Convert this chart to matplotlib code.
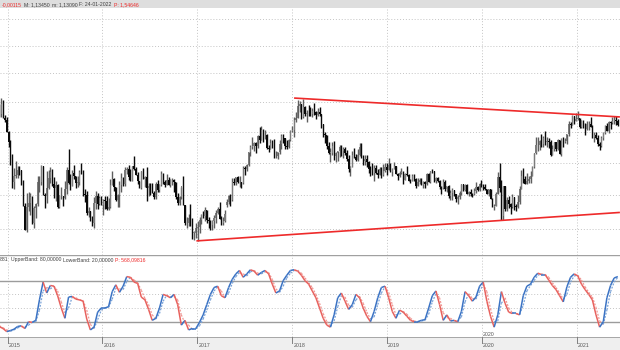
import matplotlib
matplotlib.use('Agg')
import matplotlib.pyplot as plt
import matplotlib.dates as mdates
from matplotlib.collections import LineCollection
from matplotlib.ticker import NullLocator
import numpy as np
import datetime as dt

plt.rcParams['font.family'] = ['Liberation Sans', 'DejaVu Sans']

# ---------------- data: weekly EUR/USD candles (open, high, low, close) ----------------
first_week = dt.date(2014, 12, 1)

w2014 = [(1.2450,1.2456,1.2247,1.2288),(1.2288,1.2570,1.2250,1.2468),(1.2468,1.2532,1.2220,1.2229),
         (1.2229,1.2280,1.2160,1.2193),(1.2193,1.2247,1.1998,1.2002)]
w2015 = [(1.2002,1.2010,1.1754,1.1840),(1.1840,1.1860,1.1460,1.1566),(1.1566,1.1640,1.1115,1.1204),
         (1.1204,1.1424,1.1098,1.1290),(1.1290,1.1534,1.1270,1.1317),(1.1317,1.1446,1.1270,1.1388),
         (1.1388,1.1450,1.1316,1.1381),(1.1381,1.1392,1.1158,1.1196),(1.1196,1.1240,1.0840,1.0844),
         (1.0844,1.0890,1.0495,1.0497),(1.0497,1.1043,1.0462,1.0822),(1.0822,1.1052,1.0765,1.0890),
         (1.0890,1.1034,1.0712,1.0970),(1.0970,1.0990,1.0580,1.0600),(1.0600,1.0849,1.0519,1.0808),
         (1.0808,1.0880,1.0659,1.0873),(1.0873,1.1290,1.0849,1.1201),(1.1201,1.1292,1.1050,1.1203),
         (1.1203,1.1467,1.1161,1.1447),(1.1447,1.1447,1.1000,1.1012),(1.1012,1.1030,1.0819,1.0987),
         (1.0987,1.1379,1.0887,1.1114),(1.1114,1.1385,1.1103,1.1262),(1.1262,1.1436,1.1195,1.1352),
         (1.1352,1.1410,1.1135,1.1166),(1.1166,1.1278,1.0955,1.1105),(1.1105,1.1216,1.0915,1.1160),
         (1.1160,1.1170,1.0808,1.0825),(1.0825,1.1000,1.0808,1.0984),(1.0984,1.1128,1.0950,1.0984),
         (1.0984,1.0990,1.0848,1.0966),(1.0966,1.1215,1.0950,1.1104),(1.1104,1.1440,1.1017,1.1384),
         (1.1384,1.1714,1.1170,1.1183),(1.1183,1.1333,1.1087,1.1149),(1.1149,1.1385,1.1147,1.1339),
         (1.1339,1.1460,1.1245,1.1295),(1.1295,1.1300,1.1106,1.1195),(1.1195,1.1300,1.1120,1.1208),
         (1.1208,1.1390,1.1155,1.1358),(1.1358,1.1495,1.1320,1.1350),(1.1350,1.1390,1.0990,1.1014),
         (1.1014,1.1097,1.0896,1.1007),(1.1007,1.1060,1.0704,1.0739),(1.0739,1.0830,1.0675,1.0770),
         (1.0770,1.0772,1.0616,1.0644),(1.0644,1.0692,1.0557,1.0593),(1.0593,1.0981,1.0524,1.0882),
         (1.0882,1.1059,1.0800,1.0989),(1.0989,1.1041,1.0805,1.0866),(1.0866,1.0990,1.0850,1.0967),
         (1.0967,1.0990,1.0850,1.0862)]
w2016 = [(1.0862,1.0946,1.0711,1.0922),(1.0922,1.0994,1.0804,1.0918),(1.0918,1.0986,1.0778,1.0795),
         (1.0795,1.0960,1.0790,1.0831),(1.0831,1.1246,1.0810,1.1158),(1.1158,1.1376,1.1160,1.1257),
         (1.1257,1.1260,1.1067,1.1128),(1.1128,1.1130,1.0913,1.0934),(1.0934,1.1017,1.0822,1.1004),
         (1.1004,1.1218,1.0823,1.1152),(1.1152,1.1342,1.1057,1.1268),(1.1268,1.1278,1.1144,1.1168),
         (1.1168,1.1439,1.1144,1.1393),(1.1393,1.1438,1.1330,1.1398),(1.1398,1.1465,1.1232,1.1282),
         (1.1282,1.1398,1.1218,1.1225),(1.1225,1.1454,1.1215,1.1456),(1.1456,1.1616,1.1386,1.1404),
         (1.1404,1.1432,1.1310,1.1312),(1.1312,1.1350,1.1172,1.1223),(1.1223,1.1225,1.1112,1.1106),
         (1.1106,1.1372,1.1098,1.1367),(1.1367,1.1416,1.1253,1.1256),(1.1256,1.1298,1.1131,1.1280),
         (1.1280,1.1428,1.0912,1.1115),(1.1115,1.1186,1.0986,1.1136),(1.1136,1.1186,1.1000,1.1052),
         (1.1052,1.1185,1.1034,1.1043),(1.1043,1.1059,1.0952,1.0976),(1.0976,1.1198,1.0953,1.1175),
         (1.1175,1.1236,1.1046,1.1087),(1.1087,1.1180,1.1045,1.1161),(1.1161,1.1366,1.1149,1.1325),
         (1.1325,1.1342,1.1180,1.1198),(1.1198,1.1238,1.1123,1.1154),(1.1154,1.1327,1.1156,1.1233),
         (1.1233,1.1285,1.1158,1.1155),(1.1155,1.1250,1.1122,1.1229),(1.1229,1.1260,1.1161,1.1241),
         (1.1241,1.1250,1.1046,1.1202),(1.1202,1.1210,1.0952,1.0970),(1.0970,1.1039,1.0858,1.0885),
         (1.0885,1.0990,1.0860,1.0980),(1.0980,1.1125,1.0950,1.1142),(1.1142,1.1299,1.0853,1.0854),
         (1.0854,1.0860,1.0570,1.0588),(1.0588,1.0687,1.0518,1.0590),(1.0590,1.0722,1.0551,1.0663),
         (1.0663,1.0874,1.0555,1.0560),(1.0560,1.0668,1.0365,1.0450),(1.0450,1.0480,1.0352,1.0455),
         (1.0455,1.0590,1.0375,1.0520)]
w2017 = [(1.0520,1.0620,1.0340,1.0530),(1.0530,1.0686,1.0455,1.0642),(1.0642,1.0719,1.0580,1.0703),
         (1.0703,1.0775,1.0660,1.0695),(1.0695,1.0829,1.0620,1.0783),(1.0783,1.0790,1.0590,1.0640),
         (1.0640,1.0680,1.0520,1.0615),(1.0615,1.0640,1.0495,1.0560),(1.0560,1.0630,1.0494,1.0624),
         (1.0624,1.0715,1.0525,1.0673),(1.0673,1.0780,1.0600,1.0740),(1.0740,1.0825,1.0717,1.0800),
         (1.0800,1.0906,1.0650,1.0652),(1.0652,1.0690,1.0570,1.0590),(1.0590,1.0680,1.0570,1.0615),
         (1.0615,1.0779,1.0610,1.0727),(1.0860,1.0950,1.0820,1.0895),(1.0895,1.0999,1.0870,1.0996),
         (1.0996,1.1024,1.0839,1.0932),(1.0932,1.1268,1.0921,1.1207),(1.1207,1.1268,1.1160,1.1183),
         (1.1183,1.1285,1.1160,1.1280),(1.1280,1.1296,1.1195,1.1196),(1.1196,1.1296,1.1131,1.1198),
         (1.1198,1.1209,1.1119,1.1195),(1.1195,1.1445,1.1173,1.1426),(1.1426,1.1446,1.1312,1.1398),
         (1.1398,1.1489,1.1372,1.1470),(1.1470,1.1680,1.1449,1.1666),(1.1666,1.1777,1.1612,1.1752),
         (1.1752,1.1910,1.1727,1.1773),(1.1773,1.1828,1.1688,1.1823),(1.1823,1.1830,1.1662,1.1761),
         (1.1761,1.1940,1.1740,1.1924),(1.1924,1.2070,1.1823,1.1860),(1.1860,1.2092,1.1860,1.2036),
         (1.2036,1.2040,1.1837,1.1944),(1.1944,1.2035,1.1885,1.1950),(1.1950,1.1960,1.1717,1.1733),
         (1.1733,1.1790,1.1670,1.1725),(1.1725,1.1880,1.1715,1.1822),(1.1822,1.1860,1.1730,1.1786),
         (1.1786,1.1880,1.1574,1.1606),(1.1606,1.1690,1.1573,1.1608),(1.1608,1.1665,1.1554,1.1665),
         (1.1665,1.1860,1.1640,1.1794),(1.1794,1.1960,1.1722,1.1932),(1.1932,1.1960,1.1810,1.1895),
         (1.1895,1.1900,1.1728,1.1771),(1.1771,1.1863,1.1717,1.1751),(1.1751,1.1880,1.1734,1.1863),
         (1.1863,1.2030,1.1850,1.2005)]
w2018 = [(1.2005,1.2089,1.1995,1.2031),(1.2031,1.2240,1.1916,1.2200),(1.2200,1.2323,1.2165,1.2222),
         (1.2222,1.2537,1.2226,1.2427),(1.2427,1.2520,1.2335,1.2459),(1.2459,1.2468,1.2206,1.2252),
         (1.2252,1.2555,1.2235,1.2406),(1.2406,1.2430,1.2260,1.2294),(1.2294,1.2354,1.2155,1.2310),
         (1.2310,1.2446,1.2267,1.2307),(1.2307,1.2413,1.2260,1.2290),(1.2290,1.2388,1.2240,1.2352),
         (1.2352,1.2476,1.2280,1.2325),(1.2325,1.2340,1.2215,1.2280),(1.2280,1.2395,1.2255,1.2330),
         (1.2330,1.2414,1.2265,1.2288),(1.2288,1.2295,1.2055,1.2130),(1.2130,1.2130,1.1910,1.1960),
         (1.1960,1.1995,1.1823,1.1940),(1.1940,1.1950,1.1717,1.1770),(1.1770,1.1830,1.1645,1.1655),
         (1.1655,1.1730,1.1510,1.1660),(1.1660,1.1840,1.1630,1.1770),(1.1770,1.1852,1.1540,1.1610),
         (1.1610,1.1680,1.1508,1.1655),(1.1655,1.1690,1.1525,1.1684),(1.1684,1.1790,1.1590,1.1745),
         (1.1745,1.1790,1.1615,1.1684),(1.1684,1.1745,1.1575,1.1720),(1.1720,1.1750,1.1620,1.1658),
         (1.1658,1.1712,1.1530,1.1566),(1.1566,1.1625,1.1365,1.1410),(1.1410,1.1445,1.1301,1.1439),
         (1.1439,1.1690,1.1430,1.1622),(1.1622,1.1734,1.1580,1.1600),(1.1600,1.1640,1.1525,1.1553),
         (1.1553,1.1720,1.1530,1.1622),(1.1622,1.1815,1.1615,1.1750),(1.1750,1.1815,1.1570,1.1604),
         (1.1604,1.1620,1.1460,1.1524),(1.1524,1.1620,1.1460,1.1560),(1.1560,1.1620,1.1430,1.1510),
         (1.1510,1.1530,1.1335,1.1402),(1.1402,1.1455,1.1300,1.1388),(1.1388,1.1500,1.1315,1.1335),
         (1.1335,1.1470,1.1216,1.1415),(1.1415,1.1472,1.1325,1.1337),(1.1337,1.1400,1.1267,1.1315),
         (1.1315,1.1440,1.1310,1.1405),(1.1405,1.1442,1.1270,1.1305),(1.1305,1.1487,1.1300,1.1370),
         (1.1370,1.1500,1.1350,1.1440),(1.1440,1.1500,1.1310,1.1395)]
w2019 = [(1.1395,1.1570,1.1390,1.1468),(1.1468,1.1496,1.1355,1.1365),(1.1365,1.1415,1.1290,1.1410),
         (1.1410,1.1515,1.1400,1.1454),(1.1454,1.1458,1.1320,1.1325),(1.1325,1.1344,1.1234,1.1295),
         (1.1295,1.1370,1.1275,1.1336),(1.1336,1.1420,1.1320,1.1365),(1.1365,1.1370,1.1176,1.1234),
         (1.1234,1.1340,1.1230,1.1325),(1.1325,1.1448,1.1290,1.1305),(1.1305,1.1325,1.1215,1.1218),
         (1.1218,1.1255,1.1183,1.1216),(1.1216,1.1325,1.1215,1.1300),(1.1300,1.1325,1.1226,1.1246),
         (1.1246,1.1265,1.1112,1.1150),(1.1150,1.1265,1.1135,1.1200),(1.1200,1.1260,1.1175,1.1235),
         (1.1235,1.1264,1.1155,1.1160),(1.1160,1.1215,1.1107,1.1204),(1.1204,1.1215,1.1116,1.1170),
         (1.1170,1.1348,1.1160,1.1334),(1.1334,1.1347,1.1202,1.1210),(1.1210,1.1375,1.1181,1.1370),
         (1.1370,1.1412,1.1345,1.1369),(1.1369,1.1375,1.1205,1.1225),(1.1225,1.1287,1.1195,1.1270),
         (1.1270,1.1283,1.1200,1.1220),(1.1220,1.1230,1.1101,1.1127),(1.1127,1.1145,1.1027,1.1110),
         (1.1110,1.1250,1.1090,1.1200),(1.1200,1.1230,1.1065,1.1090),(1.1090,1.1150,1.1050,1.1143),
         (1.1143,1.1165,1.0965,1.0990),(1.0990,1.1085,1.0926,1.1030),(1.1030,1.1109,1.0927,1.1075),
         (1.1075,1.1075,1.0990,1.1015),(1.1015,1.1025,1.0905,1.0940),(1.0940,1.0999,1.0879,1.0980),
         (1.0980,1.1063,1.0940,1.1040),(1.1040,1.1179,1.1000,1.1170),(1.1170,1.1180,1.1072,1.1080),
         (1.1080,1.1175,1.1072,1.1165),(1.1165,1.1175,1.1015,1.1020),(1.1020,1.1071,1.0990,1.1050),
         (1.1050,1.1095,1.0990,1.1020),(1.1020,1.1030,1.0980,1.1016),(1.1016,1.1115,1.1010,1.1060),
         (1.1060,1.1200,1.1040,1.1120),(1.1120,1.1150,1.1065,1.1080),(1.1080,1.1190,1.1070,1.1175),
         (1.1175,1.1239,1.1125,1.1160)]
w2020 = [(1.1160,1.1175,1.1085,1.1120),(1.1120,1.1175,1.1085,1.1090),(1.1090,1.1100,1.1020,1.1025),
         (1.1025,1.1095,1.0992,1.1093),(1.1093,1.1095,1.0940,1.0944),(1.0944,1.0955,1.0827,1.0830),
         (1.0830,1.0865,1.0778,1.0848),(1.0848,1.1053,1.0845,1.1025),(1.1025,1.1355,1.1015,1.1285),
         (1.1285,1.1495,1.1055,1.1105),(1.1105,1.1237,1.0636,1.0695),(1.0695,1.1147,1.0637,1.1140),
         (1.1140,1.1150,1.0770,1.0805),(1.0805,1.0970,1.0770,1.0935),(1.0935,1.0990,1.0810,1.0875),
         (1.0875,1.0890,1.0727,1.0820),(1.0820,1.1020,1.0815,1.0980),(1.0980,1.0980,1.0780,1.0840),
         (1.0840,1.0875,1.0775,1.0820),(1.0820,1.1010,1.0815,1.0900),(1.0900,1.1145,1.0870,1.1100),
         (1.1100,1.1385,1.1095,1.1290),(1.1290,1.1422,1.1184,1.1255),(1.1255,1.1297,1.1168,1.1180),
         (1.1180,1.1349,1.1170,1.1220),(1.1220,1.1300,1.1190,1.1245),(1.1245,1.1375,1.1185,1.1300),
         (1.1300,1.1452,1.1300,1.1428),(1.1428,1.1660,1.1420,1.1655),(1.1655,1.1908,1.1645,1.1778),
         (1.1778,1.1915,1.1695,1.1785),(1.1785,1.1865,1.1710,1.1842),(1.1842,1.1965,1.1755,1.1795),
         (1.1795,1.1930,1.1755,1.1905),(1.1905,1.2011,1.1780,1.1840),(1.1840,1.1917,1.1750,1.1845),
         (1.1845,1.1900,1.1737,1.1840),(1.1840,1.1870,1.1612,1.1630),(1.1630,1.1790,1.1625,1.1715),
         (1.1715,1.1830,1.1690,1.1825),(1.1825,1.1830,1.1690,1.1718),(1.1718,1.1880,1.1700,1.1860),
         (1.1860,1.1870,1.1640,1.1648),(1.1648,1.1890,1.1603,1.1875),(1.1875,1.1920,1.1745,1.1835),
         (1.1835,1.1895,1.1810,1.1855),(1.1855,1.1965,1.1800,1.1960),(1.1960,1.2178,1.1925,1.2120),
         (1.2120,1.2167,1.2060,1.2115),(1.2115,1.2273,1.2110,1.2255),(1.2255,1.2260,1.2130,1.2185),
         (1.2185,1.2310,1.2185,1.2215)]
w2021 = [(1.2215,1.2349,1.2195,1.2220),(1.2220,1.2225,1.2055,1.2080),(1.2080,1.2190,1.2055,1.2170),
         (1.2170,1.2188,1.2060,1.2135),(1.2135,1.2145,1.1952,1.2045),(1.2045,1.2170,1.2035,1.2120),
         (1.2120,1.2170,1.2025,1.2120),(1.2120,1.2243,1.2070,1.2075),(1.2075,1.2110,1.1895,1.1915),
         (1.1915,1.1990,1.1836,1.1950),(1.1950,1.1990,1.1875,1.1905),(1.1905,1.1945,1.1762,1.1795),
         (1.1795,1.1830,1.1704,1.1765),(1.1765,1.1928,1.1760,1.1900),(1.1900,1.1995,1.1870,1.1980),
         (1.1980,1.2116,1.1970,1.2095),(1.2095,1.2150,1.2020,1.2020),(1.2020,1.2172,1.1985,1.2165),
         (1.2165,1.2181,1.2052,1.2140),(1.2140,1.2245,1.2130,1.2180),(1.2180,1.2266,1.2134,1.2195),
         (1.2195,1.2255,1.2105,1.2170),(1.2170,1.2218,1.2093,1.2105)]

# stochastic oscillator, read every second week (%K solid, %D dotted)
stoch_k = [12.7,10,5.5,7,9,13,14,10,20,19,22,52,78,62,73,72,58,40,25,56,57,53,52,50,24,8,12,34,40,40,
           42,64,74,63,72,86,85,78,76,56,52,38,22,25,40,60,58,55,60,45,15,22,8,10,10,19,
           30,45,60,70,72,58,55,70,82,90,95,85,90,96,94,88,92,95,90,75,62,65,80,88,95,96,94,88,80,75,
           65,55,40,25,15,12,30,55,62,50,38,45,60,55,40,28,20,35,55,70,72,55,35,25,37,
           34,28,22,20,20,22,23,40,58,65,45,22,30,21,22,20,35,64,58,50,56,72,78,50,28,12,30,64,47,34,
           32,32,30,58,72,75,85,91,89,89,81,73,67,58,49,71,85,90,87,75,67,60,52,30,12,20,55,73,84,86]
stoch_d = [14,11,8,6,8,11,13,12,15,19,20,37,65,70,68,72,65,49,33,40,56,55,52,51,37,16,10,23,37,40,
           41,53,69,68,67,79,85,81,77,66,54,45,30,24,32,50,59,56,57,52,30,18,15,9,10,14,
           24,37,52,65,71,65,56,62,76,86,92,90,87,93,95,91,90,93,92,82,68,63,72,84,91,95,95,91,84,77,
           70,60,47,32,20,13,21,42,58,56,44,41,52,57,47,34,24,27,45,62,71,63,45,30,31,
           35,31,25,21,20,21,22,31,49,61,55,33,26,25,21,21,27,49,61,54,53,64,75,64,39,20,21,47,55,40,
           33,32,31,44,65,73,80,88,90,89,85,77,70,62,53,60,78,87,88,81,71,63,56,41,21,16,37,64,78,85]
upper_band, lower_band = 80, 20

# trend lines (date, price)
upper_trend = [(dt.date(2018, 1, 8), 1.2565), (dt.date(2021, 6, 15), 1.2245)]
lower_trend = [(dt.date(2016, 12, 28), 1.0337), (dt.date(2021, 6, 15), 1.0747)]

years = [2015, 2016, 2017, 2018, 2019, 2020, 2021]
price_grid = [1.05, 1.10, 1.15, 1.20, 1.25, 1.30, 1.35, 1.40]

header_parts = [("-0,00115", 'red'), ("M: 1,13450", 'dark'), ("m: 1,13090", 'dark'),
                ("F: 24-01-2022", 'dark'), ("P: 1,54646", 'red')]
stoch_header = [("881", 'dark'), ("UpperBand: 80,00000", 'dark'),
                ("LowerBand: 20,00000", 'dark'), ("P: 568,09816", 'red')]

# ---------------- drawing ----------------
candles = w2014 + w2015 + w2016 + w2017 + w2018 + w2019 + w2020 + w2021
o = np.array([c[0] for c in candles]); h = np.array([c[1] for c in candles])
l = np.array([c[2] for c in candles]); c_ = np.array([c[3] for c in candles])
n = len(candles)
week_dates = [first_week + dt.timedelta(days=7 * i) for i in range(n)]
xw = mdates.date2num(week_dates)
xs = xw[::2][:len(stoch_k)]

W, H = 620, 350
fig = plt.figure(figsize=(6.2, 3.5), dpi=100)
fig.patch.set_facecolor('white')
renderer = fig.canvas.get_renderer()

def px_axes(x0, y0, x1, y1):
    return fig.add_axes([x0 / W, 1 - y1 / H, (x1 - x0) / W, (y1 - y0) / H])

px_per_day = 94.9 / 365.25
x2015 = mdates.date2num(dt.date(2015, 1, 1))
xlim = (x2015 - 7.5 / px_per_day, x2015 + 612.5 / px_per_day)
year_x = [mdates.date2num(dt.date(y, 1, 1)) for y in years]

RED = '#ee2a2a'
DARK = '#404040'
GRID = '#c4c4c4'
FS = 3.7

def clean(ax):
    ax.set_xticks([]); ax.set_yticks([])
    ax.yaxis.set_minor_locator(NullLocator())
    for s in ax.spines.values():
        s.set_visible(False)

def seq_text(ax, targets, yfrac, parts):
    prev_end = -1e9
    for (txt, col), x in zip(parts, targets):
        xx = max(x, prev_end + 2)
        t = ax.text(xx / W, yfrac, txt, transform=ax.transAxes, fontsize=FS, va='center',
                    ha='left', color=RED if col == 'red' else DARK)
        prev_end = t.get_window_extent(renderer).x1

# header strip
hax = px_axes(0, 0, 620, 8)
clean(hax); hax.set_facecolor('#dedede')
seq_text(hax, [2, 22, 46, 71, 110], 0.45, header_parts)

# main price panel
ax = px_axes(0, 8, 620, 255)
ax.set_yscale('log')
clean(ax)
ax.set_xlim(*xlim)
ax.set_ylim(1.014, 1.421)
for p in price_grid:
    ax.axhline(p, color=GRID, lw=0.7, ls=(0, (1, 2)), zorder=0)
for yx in year_x:
    ax.axvline(yx, color=GRID, lw=0.7, ls=(0, (1, 2)), zorder=0)

up = c_ >= o
body_w = 4.4
ax.vlines(xw[up], l[up], h[up], color='#5e5e5e', lw=1.0, zorder=2)
ax.vlines(xw[~up], l[~up], h[~up], color='#0a0a0a', lw=1.0, zorder=2)
bot = np.minimum(o, c_); top = np.maximum(o, c_)
top = np.maximum(top, bot * 1.0008)
ax.bar(xw[up], top[up] - bot[up], bottom=bot[up], width=body_w, color='#7c7c7c',
       edgecolor='none', zorder=3)
ax.bar(xw[~up], top[~up] - bot[~up], bottom=bot[~up], width=body_w, color='#0a0a0a',
       edgecolor='none', zorder=3)

for tl in (upper_trend, lower_trend):
    ax.plot(mdates.date2num([tl[0][0], tl[1][0]]), [tl[0][1], tl[1][1]], color=RED, lw=1.2,
            zorder=4, solid_capstyle='butt')

# stochastic panel
sax = px_axes(0, 255, 620, 336.7)
clean(sax)
sax.set_xlim(*xlim)
sax.set_ylim(-1.95, 117.6)
sax.axhline(117.3, color='#a0a0a0', lw=1.0)
for v in (40, 60):
    sax.axhline(v, color=GRID, lw=0.7, ls=(0, (1, 2)), zorder=0)
for v in (upper_band, lower_band):
    sax.axhline(v, color='#9c9c9c', lw=1.0, zorder=1)
for yx in year_x:
    sax.axvline(yx, color=GRID, lw=0.7, ls=(0, (1, 2)), zorder=0)

BLUE = '#3b73c4'; SRED = '#e8625e'
BLUE_L = '#7aa3d8'; SRED_L = '#f09894'

def colored_line(ax, x, y, c_up, c_dn, lw, ls):
    pts = np.column_stack([x, y])
    segs = np.stack([pts[:-1], pts[1:]], axis=1)
    cols = [c_up if y[i + 1] >= y[i] else c_dn for i in range(len(y) - 1)]
    lc = LineCollection(segs, colors=cols, linewidths=lw, linestyles=ls, zorder=3)
    ax.add_collection(lc)

colored_line(sax, xs, np.array(stoch_d, float), BLUE_L, SRED_L, 0.9, (0, (1.5, 1.2)))
colored_line(sax, xs, np.array(stoch_k, float), BLUE, SRED, 1.1, 'solid')

seq_text(sax, [0, 5, 57, 106], 1 - 4.5 / 81.7, stoch_header)

# time axis strip
tax = px_axes(0, 336.7, 620, 350)
clean(tax)
tax.set_facecolor('#efefef')
tax.set_xlim(*xlim); tax.set_ylim(0, 1)
tax.axhline(1, color='#9a9a9a', lw=1.2)
for y, yx in zip(years, year_x):
    tax.plot([yx, yx], [1, 0.55], color='#808080', lw=0.7)
    tax.text(yx + 1.0 / px_per_day, 0.35, str(y), fontsize=3.8, color='#555555',
             va='center', ha='left')
# cursor label above axis
sax.text(year_x[5] + 1.0 / px_per_day, 2.0, "2020", fontsize=3.8, color='#555555',
         va='center', ha='left')

fig.savefig('out.png', dpi=100)
